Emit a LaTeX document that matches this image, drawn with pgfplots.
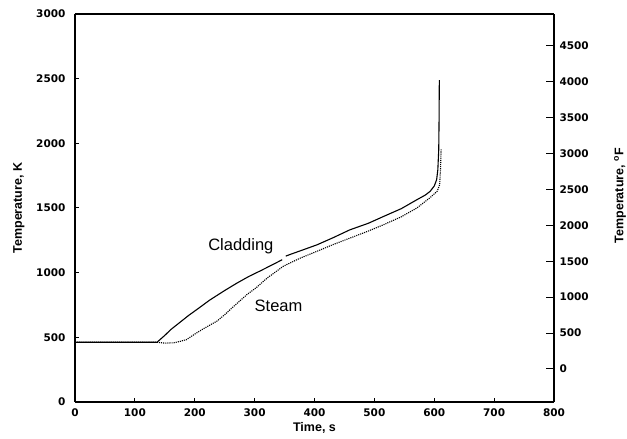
\documentclass[border=0pt]{standalone}
\usepackage{pgfplots}
\pgfplotsset{compat=1.18}
\usepackage{fontspec}
\setmainfont{Liberation Sans}
\newfontfamily\tickfont{DejaVu Sans}
\begin{document}
\begin{tikzpicture}
\path[use as bounding box] (-75pt,-37pt) rectangle (552pt,402pt);
\begin{axis}[
  scale only axis, width=479pt, height=388pt,
  xmin=0, xmax=800, ymin=0, ymax=3000,
  xtick={0,100,...,800}, ytick={0,500,...,3000},
  axis y line*=left, axis x line*=box,
  tick align=inside, major tick length=4pt,
  xtick pos=bottom, ytick pos=left,
  axis line style={line width=1.3pt},
  tick style={line width=1pt, black},
  /pgf/number format/assume math mode=true,
  /pgf/number format/set thousands separator={},
  ticklabel style={font=\tickfont\bfseries\fontsize{10.5}{11}\selectfont},
  yticklabel style={xshift=-6pt},
  xticklabel style={yshift=-3pt},
  xlabel={Time, s}, ylabel={Temperature, K},
  label style={font=\bfseries\fontsize{12.5}{14}\selectfont},
  xlabel style={yshift=1pt},
  ylabel style={yshift=5pt},
  unbounded coords=jump,
  clip=false,
]
\addplot[black, line width=1.1pt] coordinates {
(0,462) (137,462) (150,515) (160,560) (175,615) (190,670) (205,720) (225,788)
(250,862) (270,918) (290,970) (310,1015) (330,1062) (346,1100) (350,nan)
(352,1128) (360,1142) (380,1175) (404,1215) (430,1268) (459,1331) (490,1382)
(515,1434) (545,1495) (571,1564) (585,1600) (593,1628) (600,1670) (604,1719)
(606,1796) (607.5,1950) (608,2150) (608.5,2488)
};
\addplot[black, line width=1.1pt, densely dotted] coordinates {
(0,462) (137,462) (150,455) (165,458) (175,468) (186,482) (200,525) (215,568)
(237,625) (250,675) (264,735) (287,830) (303,885) (320,955) (348,1050)
(375,1110) (404,1165) (430,1215) (459,1267) (490,1322) (515,1370) (545,1432)
(571,1500) (593,1580) (605,1630) (609,1680) (610.5,1800) (611.5,1960)
};
\node[font=\fontsize{16.5}{17}\selectfont] at (axis cs:277,1206) {Cladding};
\node[font=\fontsize{16.5}{17}\selectfont] at (axis cs:340,742) {Steam};
\end{axis}
\begin{axis}[
  scale only axis, width=479pt, height=388pt,
  xmin=0, xmax=800, ymin=-459.67, ymax=4940.33,
  axis y line*=right, axis x line=none,
  ytick={0,500,...,4500},
  tick align=inside, major tick length=8pt,
  ytick pos=right,
  axis line style={line width=1.3pt},
  tick style={line width=1pt, black},
  /pgf/number format/assume math mode=true,
  /pgf/number format/set thousands separator={},
  ticklabel style={font=\tickfont\bfseries\fontsize{10.5}{11}\selectfont},
  yticklabel style={xshift=2pt},
  clip=false,
]
\node[rotate=90, anchor=east, inner sep=0pt, font=\bfseries\fontsize{12.5}{14}\selectfont]
  at (rel axis cs:1.138,0.655) {Temperature, \textsuperscript{o}F};
\end{axis}
\end{tikzpicture}
\end{document}
